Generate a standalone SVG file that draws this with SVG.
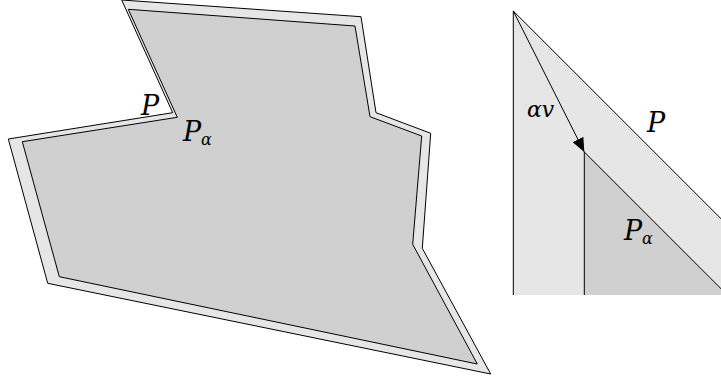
<svg xmlns="http://www.w3.org/2000/svg" width="721" height="381" viewBox="0 0 721 381">
<style>
.edge{stroke:#000;stroke-width:1;stroke-linejoin:miter;fill:none}
.band{fill:#e6e6e6}
.core{fill:#d0d0d0}
.lbl{font-family:"DejaVu Serif","Liberation Serif",serif;font-style:italic;fill:#000}
</style>
<defs>
<marker id="ah" viewBox="0 0 14 12" refX="14" refY="6" markerWidth="14" markerHeight="12" markerUnits="userSpaceOnUse" orient="auto">
<path d="M0,0 L14,6 L0,12 Z" fill="#000"/>
</marker>
</defs>
<rect width="721" height="381" fill="#fff"/>
<g id="P">
<polygon class="band edge" points="121.7,0 361,16.7 376,112.7 430.7,133.3 422.3,248.3 490.7,374 47.7,283.3 8.3,139 172.7,112.7"/>
</g>
<g id="Palpha">
<polygon class="core edge" points="128.3,9.3 355,26 370,116.7 421.7,136 412.7,244.3 477.3,364 59.3,276.7 22.3,141.7 177.3,117.3"/>
</g>
<g id="labels-left">
<text class="lbl" x="141" y="115" font-size="27">P</text>
<text class="lbl" x="183" y="141" font-size="27">P</text>
<text class="lbl" x="201" y="145" font-size="16">α</text>
</g>
<g id="wedgeP">
<polygon class="band" points="513.3,11 721,218.7 721,295 513.3,295"/>
<line class="edge" x1="513.3" y1="11" x2="513.3" y2="295"/>
<line class="edge" x1="513.3" y1="11" x2="721" y2="218.7"/>
</g>
<g id="wedgePalpha">
<polygon class="core" points="584.3,152 721,288.7 721,295 584.3,295"/>
<line class="edge" x1="584.3" y1="152" x2="584.3" y2="295"/>
<line class="edge" x1="584.3" y1="152" x2="721" y2="288.7"/>
</g>
<g id="connectors">
<line class="edge" x1="513.3" y1="11" x2="584.3" y2="152" marker-end="url(#ah)"/>
</g>
<g id="labels-right">
<text class="lbl" x="527" y="117" font-size="22">αv</text>
<text class="lbl" x="647" y="132" font-size="27">P</text>
<text class="lbl" x="624" y="240" font-size="27">P</text>
<text class="lbl" x="642" y="244" font-size="16">α</text>
</g>
</svg>
